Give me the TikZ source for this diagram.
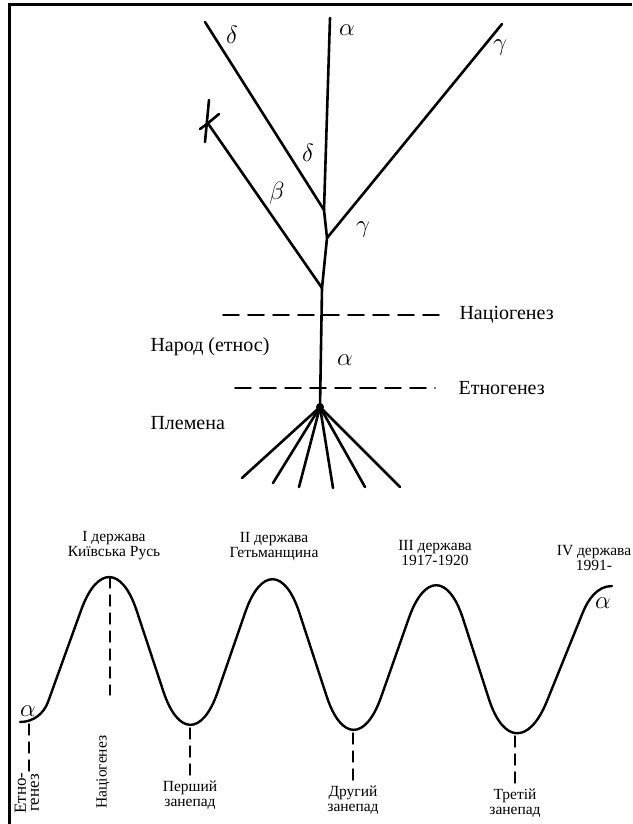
\documentclass[tikz,border=0pt]{standalone}
\usepackage{fontspec}
\setmainfont{Liberation Serif}
\usepackage{tikz}

\begin{document}
\begin{tikzpicture}[x=1pt,y=-1pt,line cap=round,
    branch/.style={line width=2.6pt},
    wave/.style={line width=2.4pt},
    level/.style={line width=1.8pt,dash pattern=on 16pt off 9pt},
    drop/.style={line width=1.4pt,dash pattern=on 11pt off 7pt},
    lab/.style={font=\fontsize{20}{22}\selectfont},
    slab/.style={font=\fontsize{15.5}{15}\selectfont,align=center,inner sep=1pt},
    greek/.style={font=\fontsize{25}{25}\selectfont,inner sep=0pt}]
    \useasboundingbox (0,0) rectangle (632,824);

    % frame
    \draw[line width=3pt,line cap=butt] (9,824) -- (9,5) -- (632,5);

    % tree of the nation
    \coordinate (root) at (320,407);
    \coordinate (nat) at (322,288);
    \coordinate (jg) at (327,238);
    \coordinate (jd) at (324,210);
    \coordinate (atop) at (330,18);
    \coordinate (dtop) at (205,22);
    \coordinate (gtop) at (502,24);
    \coordinate (btop) at (207,122);
    \draw[branch] (root) -- (nat) -- (jg) -- (jd) -- (atop);
    \draw[branch] (nat) -- (btop);
    \draw[branch] (jg) -- (gtop);
    \draw[branch] (jd) -- (dtop);
    % cut-off mark on beta
    \draw[branch] (209,100) -- (205,142);
    \draw[branch] (200,129) -- (207,124) -- (219,114);

    \node[greek] (la1) at (347,30) {$\alpha$};
    \node[greek] (ld1) at (232,35) {$\delta$};
    \node[greek] (lg1) at (500,48) {$\gamma$};
    \node[greek] (ld2) at (308,153) {$\delta$};
    \node[greek] (lb) at (277,193) {$\beta$};
    \node[greek] (lg2) at (363,230) {$\gamma$};
    \node[greek] (la2) at (345,360) {$\alpha$};

    % levels
    \node[lab,anchor=west] (natio) at (456,315) {Націогенез};
    \node[lab,anchor=west] (ethno) at (455,388) {Етногенез};
    \coordinate (natl) at (223,315);
    \coordinate (ethl) at (235,388);
    \draw[level,shorten >=11pt] (natl) -- (natio.west);
    \draw[level,shorten >=20pt] (ethl) -- (ethno.west);
    \node[lab,anchor=west] (people) at (147,347) {Народ (етнос)};
    \node[lab,anchor=west] (tribes) at (147,423) {Племена};

    % tribes
    \fill (root) circle (4pt);
    \foreach \x/\y [count=\i] in {242/478,273/483,299/487,333/488,365/487,400/487}{
        \coordinate (tribe\i) at (\x,\y);
        \draw[branch] (root) -- (tribe\i);
    }

    % states wave: straight slopes, rounded crests and dips
    \draw[wave] (20,722) .. controls (34,722) and (44,713) .. (48,702);
    \draw[wave,rounded corners=85pt] (48,702) -- (110,530) -- (190,772)
        -- (273,532) -- (353,777) -- (437,538) -- (515,780) -- (583,612);
    \draw[wave] (583,612) .. controls (588,600) and (597,586) .. (612,586);

    \node[slab] (st1) at (114,546) {I держава\\Київська Русь};
    \node[slab] (st2) at (274,547) {II держава\\Гетьманщина};
    \node[slab] (st3) at (435,553) {III держава\\1917-1920};
    \node[slab] (st4) at (594,558) {IV держава\\1991-};

    \node[greek] (aw1) at (28,711) {$\alpha$};
    \node[greek] (aw2) at (603,603) {$\alpha$};

    % drops to the time axis
    \coordinate (w0) at (29,724);
    \coordinate (crest1) at (110,577);
    \coordinate (natend) at (110,695);
    \coordinate (dip1) at (190,728);
    \coordinate (dip2) at (353,733);
    \coordinate (dip3) at (515,736);

    \node[slab,rotate=90,font=\fontsize{17}{13}\selectfont] (etno) at (27,793) {Етно-\\генез};
    \node[slab,rotate=90] (natlow) at (103,772) {Націогенез};
    \node[slab] (fall1) at (190,795) {Перший\\занепад};
    \node[slab] (fall2) at (353,800) {Другий\\занепад};
    \node[slab] (fall3) at (515,803) {Третій\\занепад};

    \draw[drop] (w0) -- (w0 |- etno.east);
    \draw[drop] (crest1) -- (natend);
    \draw[drop] (dip1) -- (fall1.north);
    \draw[drop] (dip2) -- (fall2.north);
    \draw[drop] (dip3) -- (fall3.north);
\end{tikzpicture}
\end{document}
